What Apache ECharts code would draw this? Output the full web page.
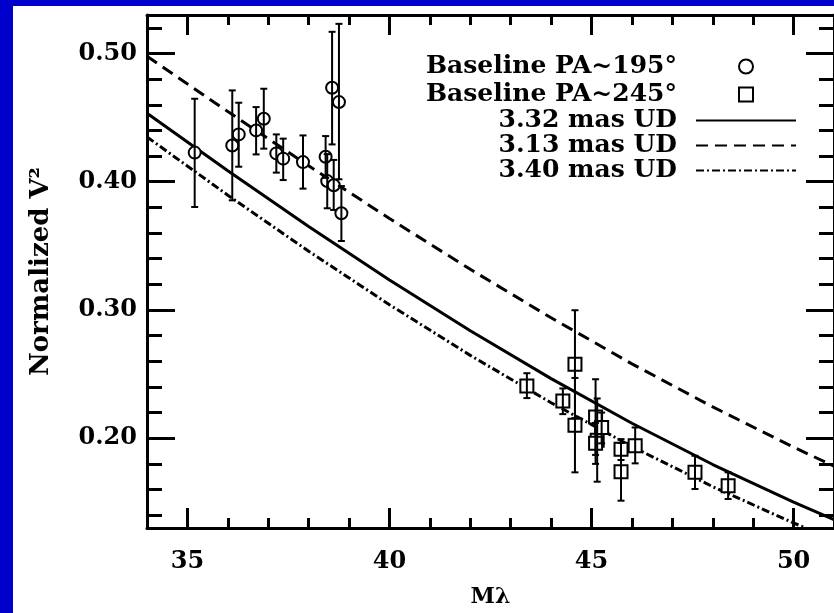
<!DOCTYPE html>
<html><head><meta charset="utf-8">
<script src="https://cdn.jsdelivr.net/npm/echarts@6/dist/echarts.min.js"></script>
<style>html,body{margin:0;padding:0;background:#0000cc}#c{width:834px;height:613px}</style>
</head><body><div id="c"></div>
<script>
// ---- tick labels ----
const xMajorTicks = [35, 40, 45, 50];
const xMinorTicks = [36, 37, 38, 39, 41, 42, 43, 44, 46, 47, 48, 49];
const yMajorTicks = [0.2, 0.3, 0.4, 0.5];
const yMinorTicks = [0.14, 0.16, 0.18, 0.22, 0.24, 0.26, 0.28, 0.32, 0.34, 0.36, 0.38, 0.42, 0.44, 0.46, 0.48, 0.52];

// ---- Baseline PA~195 (circles) ----
const circX  = [35.18, 36.11, 36.27, 36.70, 36.89, 37.20, 37.37, 37.86, 38.42, 38.46, 38.62, 38.58, 38.75, 38.81];
const circY  = [0.4227, 0.4283, 0.4369, 0.4400, 0.4491, 0.4221, 0.4180, 0.4153, 0.4195, 0.4005, 0.3972, 0.4733, 0.4621, 0.3754];
const circLo = [0.3803, 0.3855, 0.4117, 0.4213, 0.4258, 0.4071, 0.4013, 0.3946, 0.4030, 0.3793, 0.3780, 0.4291, 0.4019, 0.3538];
const circHi = [0.4647, 0.4712, 0.4616, 0.4582, 0.4725, 0.4369, 0.4336, 0.4361, 0.4356, 0.4215, 0.4170, 0.5169, 0.5231, 0.3966];

// ---- Baseline PA~245 (squares) ----
const sqX  = [43.40, 44.29, 44.59, 44.59, 45.10, 45.14, 45.25, 45.10, 45.73, 45.73, 46.08, 47.56, 48.38];
const sqY  = [0.2408, 0.2291, 0.2577, 0.2102, 0.2165, 0.1985, 0.2084, 0.1960, 0.1915, 0.1738, 0.1941, 0.1734, 0.1629];
const sqLo = [0.2313, 0.2188, 0.2157, 0.1734, 0.1870, 0.1661, 0.1960, 0.1800, 0.1830, 0.1513, 0.1804, 0.1604, 0.1526];
const sqHi = [0.2507, 0.2388, 0.2998, 0.2470, 0.2460, 0.2310, 0.2200, 0.2120, 0.1993, 0.1963, 0.2084, 0.1863, 0.1734];

// ---- model curves ----
const curveX = [34, 36, 38, 40, 42, 44, 46, 48, 50, 51];
const ud332 = [0.4534, 0.4085, 0.3651, 0.3234, 0.2838, 0.2465, 0.2117, 0.1795, 0.1502, 0.1366];
const ud313 = [0.4979, 0.4547, 0.4124, 0.3713, 0.3317, 0.2939, 0.2580, 0.2244, 0.1930, 0.1783];
const ud340 = [0.4349, 0.3895, 0.3458, 0.3041, 0.2646, 0.2277, 0.1935, 0.1622, 0.1339, 0.1209];

const names = ['Baseline PA~195°', 'Baseline PA~245°', '3.32 mas UD', '3.13 mas UD', '3.40 mas UD'];

const FONT = 'DejaVu Serif';
const zip = (a, b) => a.map((v, i) => [v, b[i]]);
const zip3 = (a, b, c) => a.map((v, i) => [v, b[i], c[i]]);

function errRender(params, api) {
  const x = api.value(0), lo = api.value(1), hi = api.value(2);
  const a = api.coord([x, hi]), b = api.coord([x, lo]);
  const w = 3.5;
  const st = { stroke: '#000', lineWidth: 2 };
  return { type: 'group', children: [
    { type: 'line', shape: { x1: a[0], y1: a[1], x2: b[0], y2: b[1] }, style: st },
    { type: 'line', shape: { x1: a[0] - w, y1: a[1], x2: a[0] + w, y2: a[1] }, style: st },
    { type: 'line', shape: { x1: b[0] - w, y1: b[1], x2: b[0] + w, y2: b[1] }, style: st }
  ]};
}

const tickStyle = { color: '#000', width: 3 };
function xAx(pos, ticks, len, main) {
  return {
    type: 'value', min: 34, max: 51, position: pos, gridIndex: 0,
    splitLine: { show: false },
    axisLine: { show: main, lineStyle: { color: '#000', width: 3 } },
    axisTick: { show: true, inside: true, length: len, lineStyle: tickStyle, customValues: ticks },
    axisLabel: (pos === 'bottom' && main) ? {
      show: true, customValues: xMajorTicks, margin: 22,
      fontFamily: FONT, fontWeight: 'bold', fontSize: 24, color: '#000'
    } : { show: false },
    name: (pos === 'bottom' && main) ? 'Mλ' : '',
    nameLocation: 'middle', nameGap: 58,
    nameTextStyle: { fontFamily: FONT, fontWeight: 'bold', fontSize: 22, color: '#000' }
  };
}
function yAx(pos, ticks, len, main) {
  return {
    type: 'value', min: 0.13, max: 0.53, position: pos, gridIndex: 0,
    splitLine: { show: false },
    axisLine: { show: main, lineStyle: { color: '#000', width: 3 } },
    axisTick: { show: true, inside: true, length: len, lineStyle: tickStyle, customValues: ticks },
    axisLabel: (pos === 'left' && main) ? {
      show: true, customValues: yMajorTicks, margin: 10,
      formatter: v => v.toFixed(2),
      fontFamily: FONT, fontWeight: 'bold', fontSize: 24, color: '#000'
    } : { show: false },
    name: (pos === 'left' && main) ? 'Normalized V²' : '',
    nameLocation: 'middle', nameGap: 93,
    nameTextStyle: { fontFamily: FONT, fontWeight: 'bold', fontSize: 26, color: '#000' }
  };
}

const rowCenters = [61, 89, 115, 140, 165];
const legendText = { fontFamily: FONT, fontWeight: 'bold', fontSize: 25, color: '#000' };
const legends = names.map((n, i) => {
  const isMarker = i < 2;
  return {
    data: [n], orient: 'vertical', align: 'right',
    right: isMarker ? 80 : 37, top: rowCenters[i] - 7,
    itemWidth: isMarker ? 14 : 100, itemHeight: 14, padding: 0, selectedMode: false,
    itemStyle: isMarker ? { opacity: 1 } : { opacity: 0 },
    textStyle: Object.assign({}, legendText, { padding: [0, isMarker ? 57 : 14, 0, 0] })
  };
});

const chart = echarts.init(document.getElementById('c'), null, { renderer: 'canvas' });
chart.setOption({
  backgroundColor: '#0000cc',
  animation: false,
  color: ['#000'],
  graphic: [{ type: 'rect', left: 13, top: 6, shape: { width: 821, height: 607 }, style: { fill: '#fff' }, z: -100, silent: true }],
  grid: { left: 147, top: 15, width: 692, height: 514, containLabel: false },
  xAxis: [xAx('bottom', xMajorTicks, 20, true), xAx('bottom', xMinorTicks, 10, false),
          xAx('top', xMajorTicks, 20, true), xAx('top', xMinorTicks, 10, false)],
  yAxis: [yAx('left', yMajorTicks, 28, true), yAx('left', yMinorTicks, 15, false),
          yAx('right', yMajorTicks, 28, true), yAx('right', yMinorTicks, 15, false)],
  legend: legends,
  series: [
    { name: names[0], type: 'scatter', data: zip(circX, circY), symbol: 'emptyCircle', symbolSize: 12,
      itemStyle: { color: '#000', borderColor: '#000', borderWidth: 2.5, opacity: 1 }, z: 3 },
    { name: names[1], type: 'scatter', data: zip(sqX, sqY), symbol: 'emptyRect', symbolSize: 13,
      itemStyle: { color: '#000', borderColor: '#000', borderWidth: 2.5, opacity: 1 }, z: 3 },
    { name: names[2], type: 'line', data: zip(curveX, ud332), symbol: 'none', showSymbol: false,
      lineStyle: { color: '#000', width: 3, type: 'solid' }, z: 2 },
    { name: names[3], type: 'line', data: zip(curveX, ud313), symbol: 'none', showSymbol: false,
      lineStyle: { color: '#000', width: 3, type: [12, 7] }, z: 2 },
    { name: names[4], type: 'line', data: zip(curveX, ud340), symbol: 'none', showSymbol: false,
      lineStyle: { color: '#000', width: 3, type: [8, 3, 2, 3] }, z: 2 },
    { type: 'custom', renderItem: errRender, data: zip3(circX, circLo, circHi), encode: { x: 0, y: [1, 2] }, z: 4 },
    { type: 'custom', renderItem: errRender, data: zip3(sqX, sqLo, sqHi), encode: { x: 0, y: [1, 2] }, z: 4 }
  ]
});
</script></body></html>
